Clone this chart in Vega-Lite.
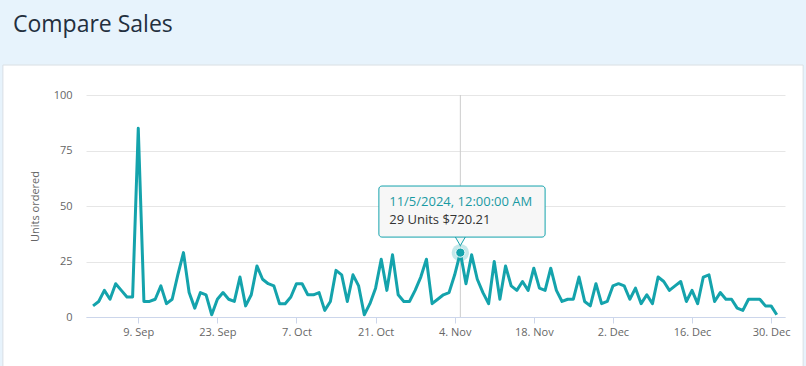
{
  "$schema": "https://vega.github.io/schema/vega-lite/v6.json",
  "width": 699,
  "height": 222,
  "autosize": {"type": "none"},
  "padding": {"left": 86, "top": 95, "right": 21, "bottom": 49},
  "background": "white",
  "config": {
    "view": {"stroke": null},
    "font": "Open Sans",
    "axis": {
      "labelFont": "Open Sans",
      "titleFont": "Open Sans",
      "labelColor": "#666666",
      "titleColor": "#666666",
      "labelFontSize": 11,
      "titleFontSize": 11,
      "titleFontWeight": "normal"
    },
    "axisX": {
      "grid": false,
      "domain": true,
      "domainColor": "#ccd6eb",
      "ticks": true,
      "tickColor": "#ccd6eb",
      "tickSize": 6,
      "labelPadding": 3,
      "title": null
    },
    "axisY": {
      "grid": true,
      "gridColor": "#e6e6e6",
      "domain": false,
      "ticks": false,
      "labelPadding": 14
    }
  },
  "datasets": {
    "bg": [
      {"start": "2024-07-01T00:00:00Z", "end": "2025-03-01T00:00:00Z", "lo": 113.5, "hi": 150},
      {"start": "2024-07-01T00:00:00Z", "end": "2024-08-16T01:00:00Z", "lo": -50, "hi": 113.5},
      {"start": "2025-01-04T16:00:00Z", "end": "2025-03-01T00:00:00Z", "lo": -50, "hi": 113.5}
    ],
    "card": [
      {"start": "2024-08-16T01:00:00Z", "end": "2025-01-04T16:00:00Z", "lo": -25, "hi": 113.5}
    ],
    "head": [
      {"tx": "2024-08-17T19:40:00Z", "ty": 128.4, "label": "Compare Sales"}
    ],
    "tip": [
      {"date": "2024-11-05", "units": 29, "start": "2024-10-21T14:00:00Z", "end": "2024-11-20T00:00:00Z", "lo": 36, "hi": 59, "ptr": 34.6, "tx": "2024-10-23T10:00:00Z", "ya": 49.9, "yb": 41.9, "line1": "11/5/2024, 12:00:00 AM", "line2": "29 Units $720.21"}
    ],
    "sales": [
      {"date": "2024-09-01", "units": 5}, {"date": "2024-09-02", "units": 7}, {"date": "2024-09-03", "units": 12},
      {"date": "2024-09-04", "units": 8}, {"date": "2024-09-05", "units": 15}, {"date": "2024-09-06", "units": 12},
      {"date": "2024-09-07", "units": 9}, {"date": "2024-09-08", "units": 9}, {"date": "2024-09-09", "units": 85},
      {"date": "2024-09-10", "units": 7}, {"date": "2024-09-11", "units": 7}, {"date": "2024-09-12", "units": 8},
      {"date": "2024-09-13", "units": 14}, {"date": "2024-09-14", "units": 6}, {"date": "2024-09-15", "units": 8},
      {"date": "2024-09-16", "units": 19}, {"date": "2024-09-17", "units": 29}, {"date": "2024-09-18", "units": 11},
      {"date": "2024-09-19", "units": 4}, {"date": "2024-09-20", "units": 11}, {"date": "2024-09-21", "units": 10},
      {"date": "2024-09-22", "units": 1}, {"date": "2024-09-23", "units": 8}, {"date": "2024-09-24", "units": 11},
      {"date": "2024-09-25", "units": 8}, {"date": "2024-09-26", "units": 7}, {"date": "2024-09-27", "units": 18},
      {"date": "2024-09-28", "units": 5}, {"date": "2024-09-29", "units": 10}, {"date": "2024-09-30", "units": 23},
      {"date": "2024-10-01", "units": 17}, {"date": "2024-10-02", "units": 15}, {"date": "2024-10-03", "units": 14},
      {"date": "2024-10-04", "units": 6}, {"date": "2024-10-05", "units": 6}, {"date": "2024-10-06", "units": 9},
      {"date": "2024-10-07", "units": 15}, {"date": "2024-10-08", "units": 15}, {"date": "2024-10-09", "units": 10},
      {"date": "2024-10-10", "units": 10}, {"date": "2024-10-11", "units": 11}, {"date": "2024-10-12", "units": 3},
      {"date": "2024-10-13", "units": 7}, {"date": "2024-10-14", "units": 21}, {"date": "2024-10-15", "units": 19},
      {"date": "2024-10-16", "units": 7}, {"date": "2024-10-17", "units": 19}, {"date": "2024-10-18", "units": 14},
      {"date": "2024-10-19", "units": 1}, {"date": "2024-10-20", "units": 6}, {"date": "2024-10-21", "units": 13},
      {"date": "2024-10-22", "units": 26}, {"date": "2024-10-23", "units": 12}, {"date": "2024-10-24", "units": 28},
      {"date": "2024-10-25", "units": 10}, {"date": "2024-10-26", "units": 7}, {"date": "2024-10-27", "units": 7},
      {"date": "2024-10-28", "units": 12}, {"date": "2024-10-29", "units": 18}, {"date": "2024-10-30", "units": 26},
      {"date": "2024-10-31", "units": 6},
      {"date": "2024-11-01", "units": 8}, {"date": "2024-11-02", "units": 10}, {"date": "2024-11-03", "units": 11},
      {"date": "2024-11-04", "units": 19}, {"date": "2024-11-05", "units": 29}, {"date": "2024-11-06", "units": 15},
      {"date": "2024-11-07", "units": 28}, {"date": "2024-11-08", "units": 17}, {"date": "2024-11-09", "units": 11},
      {"date": "2024-11-10", "units": 6}, {"date": "2024-11-11", "units": 25}, {"date": "2024-11-12", "units": 8},
      {"date": "2024-11-13", "units": 23}, {"date": "2024-11-14", "units": 14}, {"date": "2024-11-15", "units": 12},
      {"date": "2024-11-16", "units": 16}, {"date": "2024-11-17", "units": 12}, {"date": "2024-11-18", "units": 22},
      {"date": "2024-11-19", "units": 13}, {"date": "2024-11-20", "units": 12}, {"date": "2024-11-21", "units": 22},
      {"date": "2024-11-22", "units": 12}, {"date": "2024-11-23", "units": 7}, {"date": "2024-11-24", "units": 8},
      {"date": "2024-11-25", "units": 8}, {"date": "2024-11-26", "units": 18}, {"date": "2024-11-27", "units": 7},
      {"date": "2024-11-28", "units": 5}, {"date": "2024-11-29", "units": 15}, {"date": "2024-11-30", "units": 6},
      {"date": "2024-12-01", "units": 7}, {"date": "2024-12-02", "units": 14}, {"date": "2024-12-03", "units": 15},
      {"date": "2024-12-04", "units": 14}, {"date": "2024-12-05", "units": 8}, {"date": "2024-12-06", "units": 13},
      {"date": "2024-12-07", "units": 6}, {"date": "2024-12-08", "units": 10}, {"date": "2024-12-09", "units": 6},
      {"date": "2024-12-10", "units": 18}, {"date": "2024-12-11", "units": 16}, {"date": "2024-12-12", "units": 12},
      {"date": "2024-12-13", "units": 14}, {"date": "2024-12-14", "units": 16}, {"date": "2024-12-15", "units": 7},
      {"date": "2024-12-16", "units": 12}, {"date": "2024-12-17", "units": 6}, {"date": "2024-12-18", "units": 18},
      {"date": "2024-12-19", "units": 19}, {"date": "2024-12-20", "units": 7}, {"date": "2024-12-21", "units": 11},
      {"date": "2024-12-22", "units": 8}, {"date": "2024-12-23", "units": 8}, {"date": "2024-12-24", "units": 4},
      {"date": "2024-12-25", "units": 3}, {"date": "2024-12-26", "units": 8}, {"date": "2024-12-27", "units": 8},
      {"date": "2024-12-28", "units": 8}, {"date": "2024-12-29", "units": 5}, {"date": "2024-12-30", "units": 5},
      {"date": "2024-12-31", "units": 1}
    ]
  },
  "layer": [
    {
      "data": {"name": "bg"},
      "mark": {"type": "rect", "fill": "#e7f3fc", "clip": false},
      "encoding": {
        "x": {"field": "start", "type": "temporal", "scale": {"type": "utc", "domain": ["2024-08-30T18:00:00Z", "2025-01-01T11:00:00Z"], "nice": false}},
        "x2": {"field": "end"},
        "y": {"field": "lo", "type": "quantitative", "scale": {"domain": [0, 100], "nice": false}},
        "y2": {"field": "hi"}
      }
    },
    {
      "data": {"name": "card"},
      "mark": {"type": "rect", "fillOpacity": 0, "stroke": "#d9dfe5", "strokeWidth": 1, "clip": false},
      "encoding": {
        "x": {"field": "start", "type": "temporal", "scale": {"type": "utc", "domain": ["2024-08-30T18:00:00Z", "2025-01-01T11:00:00Z"], "nice": false}},
        "x2": {"field": "end"},
        "y": {"field": "lo", "type": "quantitative", "scale": {"domain": [0, 100], "nice": false}},
        "y2": {"field": "hi"}
      }
    },
    {
      "data": {"name": "head"},
      "mark": {"type": "text", "align": "left", "baseline": "alphabetic", "font": "Open Sans", "fontSize": 23, "color": "#232f3e"},
      "encoding": {
        "x": {"field": "tx", "type": "temporal", "scale": {"type": "utc", "domain": ["2024-08-30T18:00:00Z", "2025-01-01T11:00:00Z"], "nice": false}},
        "y": {"field": "ty", "type": "quantitative", "scale": {"domain": [0, 100], "nice": false}},
        "text": {"field": "label"}
      }
    },
    {
      "data": {"name": "tip"},
      "mark": {"type": "rule", "color": "#cccccc", "strokeWidth": 1},
      "encoding": {
        "x": {"field": "date", "type": "temporal", "scale": {"type": "utc", "domain": ["2024-08-30T18:00:00Z", "2025-01-01T11:00:00Z"], "nice": false}}
      }
    },
    {
      "data": {"name": "sales"},
      "mark": {"type": "line", "color": "#14a3ac", "strokeWidth": 3, "strokeJoin": "round"},
      "encoding": {
        "x": {
          "field": "date",
          "type": "temporal",
          "scale": {"type": "utc", "domain": ["2024-08-30T18:00:00Z", "2025-01-01T11:00:00Z"], "nice": false},
          "axis": {
            "format": "%-d. %b",
            "values": [
              {"year": 2024, "month": 9, "date": 9, "utc": true},
              {"year": 2024, "month": 9, "date": 23, "utc": true},
              {"year": 2024, "month": 10, "date": 7, "utc": true},
              {"year": 2024, "month": 10, "date": 21, "utc": true},
              {"year": 2024, "month": 11, "date": 4, "utc": true},
              {"year": 2024, "month": 11, "date": 18, "utc": true},
              {"year": 2024, "month": 12, "date": 2, "utc": true},
              {"year": 2024, "month": 12, "date": 16, "utc": true},
              {"year": 2024, "month": 12, "date": 30, "utc": true}
            ]
          }
        },
        "y": {
          "field": "units",
          "type": "quantitative",
          "scale": {"domain": [0, 100], "nice": false},
          "axis": {
            "values": [0, 25, 50, 75, 100],
            "title": "Units ordered",
            "titleAngle": -90,
            "titleX": -51,
            "titleY": 111,
            "titleAlign": "center",
            "titleBaseline": "middle"
          }
        }
      }
    },
    {
      "data": {"name": "tip"},
      "mark": {"type": "point", "filled": true, "size": 300, "color": "#14a3ac", "opacity": 0.25},
      "encoding": {
        "x": {"field": "date", "type": "temporal", "scale": {"type": "utc", "domain": ["2024-08-30T18:00:00Z", "2025-01-01T11:00:00Z"], "nice": false}},
        "y": {"field": "units", "type": "quantitative", "scale": {"domain": [0, 100], "nice": false}}
      }
    },
    {
      "data": {"name": "tip"},
      "mark": {"type": "point", "filled": true, "size": 85, "fill": "#14a3ac", "stroke": "#ffffff", "strokeWidth": 1, "opacity": 1},
      "encoding": {
        "x": {"field": "date", "type": "temporal", "scale": {"type": "utc", "domain": ["2024-08-30T18:00:00Z", "2025-01-01T11:00:00Z"], "nice": false}},
        "y": {"field": "units", "type": "quantitative", "scale": {"domain": [0, 100], "nice": false}}
      }
    },
    {
      "data": {"name": "tip"},
      "mark": {"type": "point", "shape": "triangle-down", "filled": true, "size": 160, "fill": "#f7f7f7", "stroke": "#14a3ac", "strokeWidth": 1, "opacity": 1},
      "encoding": {
        "x": {"field": "date", "type": "temporal", "scale": {"type": "utc", "domain": ["2024-08-30T18:00:00Z", "2025-01-01T11:00:00Z"], "nice": false}},
        "y": {"field": "ptr", "type": "quantitative", "scale": {"domain": [0, 100], "nice": false}}
      }
    },
    {
      "data": {"name": "tip"},
      "mark": {"type": "rect", "fill": "#f7f7f7", "stroke": "#14a3ac", "strokeWidth": 1, "cornerRadius": 3, "opacity": 1},
      "encoding": {
        "x": {"field": "start", "type": "temporal", "scale": {"type": "utc", "domain": ["2024-08-30T18:00:00Z", "2025-01-01T11:00:00Z"], "nice": false}},
        "x2": {"field": "end"},
        "y": {"field": "lo", "type": "quantitative", "scale": {"domain": [0, 100], "nice": false}},
        "y2": {"field": "hi"}
      }
    },
    {
      "data": {"name": "tip"},
      "mark": {"type": "text", "align": "left", "baseline": "alphabetic", "font": "Open Sans", "fontSize": 13, "color": "#1a9aa3"},
      "encoding": {
        "x": {"field": "tx", "type": "temporal", "scale": {"type": "utc", "domain": ["2024-08-30T18:00:00Z", "2025-01-01T11:00:00Z"], "nice": false}},
        "y": {"field": "ya", "type": "quantitative", "scale": {"domain": [0, 100], "nice": false}},
        "text": {"field": "line1"}
      }
    },
    {
      "data": {"name": "tip"},
      "mark": {"type": "text", "align": "left", "baseline": "alphabetic", "font": "Open Sans", "fontSize": 13, "color": "#333333"},
      "encoding": {
        "x": {"field": "tx", "type": "temporal", "scale": {"type": "utc", "domain": ["2024-08-30T18:00:00Z", "2025-01-01T11:00:00Z"], "nice": false}},
        "y": {"field": "yb", "type": "quantitative", "scale": {"domain": [0, 100], "nice": false}},
        "text": {"field": "line2"}
      }
    }
  ]
}
